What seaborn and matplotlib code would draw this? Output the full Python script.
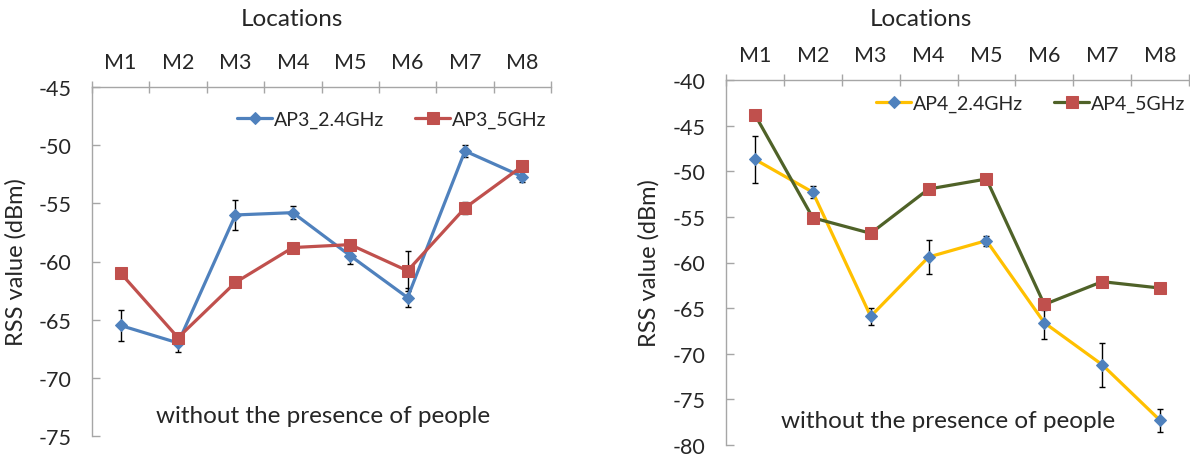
import numpy as np
import pandas as pd
import matplotlib
matplotlib.use("Agg")
import matplotlib.pyplot as plt
import seaborn as sns

sns.set_theme(style="white")
plt.rcParams['font.family'] = ['Lato', 'DejaVu Sans']

locations = ["M1", "M2", "M3", "M4", "M5", "M6", "M7", "M8"]

ap3_24 = [-65.5, -67.0, -56.0, -55.8, -59.5, -63.1, -50.5, -52.7]
ap3_24_err = [1.3, 0.8, 1.25, 0.55, 0.7, 0.8, 0.55, 0.5]
ap3_5 = [-61.0, -66.55, -61.8, -58.8, -58.55, -60.8, -55.4, -51.8]
ap3_5_err = [0.3, 0.3, 0.4, 0.3, 0.3, 1.7, 0.55, 0.4]

ap4_24 = [-48.7, -52.3, -65.9, -59.4, -57.6, -66.6, -71.2, -77.3]
ap4_24_err = [2.6, 0.65, 0.9, 1.9, 0.55, 1.8, 2.4, 1.25]
ap4_5 = [-43.8, -55.1, -56.8, -51.95, -50.85, -64.6, -62.1, -62.8]
ap4_5_err = [0.3, 0.3, 0.2, 0.3, 0.2, 0.6, 0.4, 0.2]

BLUE = "#4F81BD"
RED = "#C0504D"
YELLOW = "#FFC000"
OLIVE = "#4F6228"
GRAY = "#A6A6A6"

fig = plt.figure(figsize=(11.9, 4.56), dpi=100)
axL = fig.add_axes([92/1190, 1-437/456, (551-92)/1190, (437-88)/456])
axR = fig.add_axes([726/1190, 1-446/456, (1189-726)/1190, (446-81)/456])

def draw(ax, s1, e1, n1, c1, m1c, s2, e2, n2, c2, m2c, ylim, yticks, leg_xy):
    pos = np.arange(len(locations))
    df1 = pd.DataFrame({"pos": pos, "val": s1})
    df2 = pd.DataFrame({"pos": pos, "val": s2})
    ax.errorbar(pos, s1, yerr=e1, fmt='none', ecolor='black', elinewidth=1.0,
                capsize=2.5, capthick=1.0, zorder=2)
    ax.errorbar(pos, s2, yerr=e2, fmt='none', ecolor='black', elinewidth=1.0,
                capsize=2.5, capthick=1.0, zorder=2)
    sns.lineplot(data=df1, x="pos", y="val", ax=ax, color=c1, linewidth=2.3,
                 marker="D", markersize=6, markerfacecolor=m1c, markeredgecolor=m1c,
                 label=n1, zorder=3)
    sns.lineplot(data=df2, x="pos", y="val", ax=ax, color=c2, linewidth=2.3,
                 marker="s", markersize=8, markerfacecolor=m2c, markeredgecolor=m2c,
                 label=n2, zorder=3)
    ax.set_xlim(-0.5, len(locations) - 0.5)
    ax.set_ylim(*ylim)
    ax.set_yticks(yticks)
    ax.set_yticklabels([f"{t:d}" for t in yticks], fontsize=15.5)
    ax.xaxis.tick_top()
    ax.set_xticks(pos)
    ax.set_xticklabels(locations, fontsize=15.5)
    ax.set_xticks(np.arange(-0.5, len(locations) + 0.5, 1), minor=True)
    ax.tick_params(axis='x', which='major', length=0, pad=11)
    ax.tick_params(axis='x', which='minor', direction='inout', length=9, width=1, color=GRAY)
    ax.tick_params(axis='y', which='major', direction='in', length=6, width=1, color=GRAY, pad=15,
                   left=True)
    for sp in ["right", "bottom"]:
        ax.spines[sp].set_visible(False)
    for sp in ["left", "top"]:
        ax.spines[sp].set_color(GRAY)
        ax.spines[sp].set_linewidth(1.0)
    ax.set_xlabel("")
    ax.set_ylabel("RSS value (dBm)", fontsize=17)
    ax.grid(False)
    ax.legend(loc="center", bbox_to_anchor=leg_xy, bbox_transform=fig.transFigure,
              ncol=2, frameon=False, fontsize=14, handlelength=1.8, handletextpad=0.1,
              columnspacing=1.6, borderaxespad=0)

draw(axL, ap3_24, ap3_24_err, "AP3_2.4GHz", BLUE, BLUE,
     ap3_5, ap3_5_err, "AP3_5GHz", RED, RED,
     (-75, -45), list(range(-75, -44, 5)), (392/1190, 1-120/456))
draw(axR, ap4_24, ap4_24_err, "AP4_2.4GHz", YELLOW, BLUE,
     ap4_5, ap4_5_err, "AP4_5GHz", OLIVE, RED,
     (-80, -40), list(range(-80, -39, 5)), (1031/1190, 1-104/456))

axL.yaxis.set_label_coords(-0.142, 0.5)
axR.yaxis.set_label_coords(-0.143, 0.5)

fig.text(292/1190, 1-20/456, "Locations", ha="center", va="center", fontsize=17.5)
fig.text(921/1190, 1-20/456, "Locations", ha="center", va="center", fontsize=17.5)
fig.text(323/1190, 1-417/456, "without the presence of people", ha="center", va="center", fontsize=17.5)
fig.text(948/1190, 1-422/456, "without the presence of people", ha="center", va="center", fontsize=17.5)

fig.savefig("out.png", dpi=100)
